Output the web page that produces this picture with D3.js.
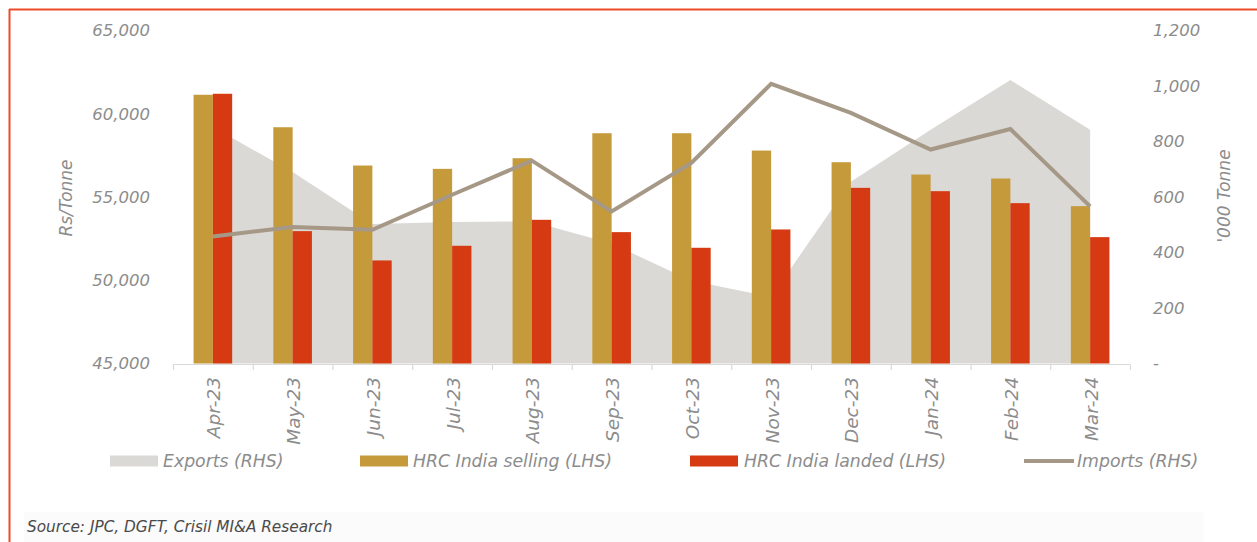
<!DOCTYPE html>
<html>
<head>
<meta charset="utf-8">
<script src="https://cdn.jsdelivr.net/npm/d3@7"></script>
<style>
  html, body { margin: 0; padding: 0; background: #ffffff; }
  svg { display: block; }
  text { font-family: "DejaVu Sans", sans-serif; font-style: italic; }
</style>
</head>
<body>
<svg id="chart" width="1257" height="542"></svg>
<script>
// Monthly HRC prices (Rs/Tonne, left axis) and trade volumes ('000 Tonne, right axis)
const months = ["Apr-23","May-23","Jun-23","Jul-23","Aug-23","Sep-23","Oct-23","Nov-23","Dec-23","Jan-24","Feb-24","Mar-24"];
const sellingPrice = [61140, 59190, 56890, 56690, 57330, 58830, 58830, 57790, 57090, 56350, 56110, 54450];
const landedPrice  = [61200, 52950, 51190, 52070, 53630, 52890, 51950, 53050, 55550, 55350, 54630, 52590];
const imports = [458, 492, 482, 608, 731, 548, 723, 1008, 903, 771, 845, 566];
const exports = [852, 690, 503, 510, 512, 432, 298, 240, 655, 842, 1022, 842];
const leftTicks = [45000, 50000, 55000, 60000, 65000];
const rightTicks = [0, 200, 400, 600, 800, 1000, 1200];

const colors = {
  exports: "#dbd9d5",
  selling: "#c59a3b",
  landed: "#d53a12",
  imports: "#a69886",
  text: "#8c8c8c",
  axis: "#d9d9d9",
  frame: "#ee4b2b"
};

const svg = d3.select("#chart");

// frame: top and left rules
svg.append("line").attr("x1", 9).attr("x2", 1257).attr("y1", 9.5).attr("y2", 9.5)
  .attr("stroke", colors.frame).attr("stroke-width", 2);
svg.append("line").attr("x1", 9.5).attr("x2", 9.5).attr("y1", 9).attr("y2", 542)
  .attr("stroke", colors.frame).attr("stroke-width", 2);

// faint band behind the source note
svg.append("rect").attr("x", 24).attr("y", 512).attr("width", 1179).attr("height", 30)
  .attr("fill", "#fbfbfb");

const x = d3.scaleBand().domain(months).range([173, 1130]).paddingInner(0).paddingOuter(0);
const xSub = d3.scaleBand().domain(["selling", "landed"]).range([0, x.bandwidth()])
  .paddingInner(0).paddingOuter(1.066);
const yL = d3.scaleLinear().domain([45000, 65000]).range([363.5, 30.5]);
const yR = d3.scaleLinear().domain([0, 1200]).range([363.5, 30.5]);
const cx = d => x(d) + x.bandwidth() / 2;

// exports area (right axis)
const area = d3.area()
  .x((d, i) => cx(months[i]))
  .y0(yR(0))
  .y1(d => yR(d));
svg.append("path").datum(exports).attr("d", area).attr("fill", colors.exports);

// price bars (left axis)
const bars = svg.append("g");
months.forEach((m, i) => {
  bars.append("rect")
    .attr("x", x(m) + xSub("selling")).attr("width", xSub.bandwidth())
    .attr("y", yL(sellingPrice[i])).attr("height", yL(45000) - yL(sellingPrice[i]))
    .attr("fill", colors.selling);
  bars.append("rect")
    .attr("x", x(m) + xSub("landed")).attr("width", xSub.bandwidth())
    .attr("y", yL(landedPrice[i])).attr("height", yL(45000) - yL(landedPrice[i]))
    .attr("fill", colors.landed);
});

// imports line (right axis)
const line = d3.line().x((d, i) => cx(months[i])).y(d => yR(d));
svg.append("path").datum(imports).attr("d", line)
  .attr("fill", "none").attr("stroke", colors.imports).attr("stroke-width", 4)
  .attr("stroke-linejoin", "miter");

// x axis: baseline with ticks at category boundaries
const xAxisG = svg.append("g");
xAxisG.append("line").attr("x1", 173).attr("x2", 1130).attr("y1", 364.5).attr("y2", 364.5)
  .attr("stroke", colors.axis).attr("stroke-width", 1.2);
const boundaries = months.map(m => x(m)).concat([x.range()[1]]);
xAxisG.selectAll("line.tick").data(boundaries).join("line").attr("class", "tick")
  .attr("x1", d => d + 0.5).attr("x2", d => d + 0.5).attr("y1", 364.5).attr("y2", 370)
  .attr("stroke", colors.axis).attr("stroke-width", 1.2);
xAxisG.selectAll("text").data(months).join("text")
  .attr("transform", d => `translate(${cx(d) + 1},377) rotate(-90)`)
  .attr("text-anchor", "end").attr("dy", "0.35em")
  .attr("font-size", 18.5).attr("fill", colors.text)
  .text(d => d);

// left axis labels
const fmt = d3.format(",");
svg.append("g").selectAll("text").data(leftTicks).join("text")
  .attr("x", 150).attr("y", d => yL(d)).attr("dy", "0.36em")
  .attr("text-anchor", "end").attr("font-size", 16.5).attr("fill", colors.text)
  .text(d => fmt(d));

// right axis labels
svg.append("g").selectAll("text").data(rightTicks).join("text")
  .attr("x", 1153).attr("y", d => yR(d)).attr("dy", "0.36em")
  .attr("text-anchor", "start").attr("font-size", 16.5).attr("fill", colors.text)
  .text(d => d === 0 ? "-" : fmt(d));

// axis titles
svg.append("text").attr("transform", "translate(66,198) rotate(-90)")
  .attr("text-anchor", "middle").attr("dy", "0.35em")
  .attr("font-size", 17).attr("fill", colors.text).text("Rs/Tonne");
svg.append("text").attr("transform", "translate(1224,196) rotate(-90)")
  .attr("text-anchor", "middle").attr("dy", "0.35em")
  .attr("font-size", 17).attr("fill", colors.text).text("'000 Tonne");

// legend
const legend = svg.append("g");
const legendItems = [
  { label: "Exports (RHS)", type: "rect", color: colors.exports, x: 110, tx: 163 },
  { label: "HRC India selling (LHS)", type: "rect", color: colors.selling, x: 360, tx: 413 },
  { label: "HRC India landed (LHS)", type: "rect", color: colors.landed, x: 690, tx: 744 },
  { label: "Imports (RHS)", type: "line", color: colors.imports, x: 1024, tx: 1077 }
];
legendItems.forEach(it => {
  if (it.type === "rect") {
    legend.append("rect").attr("x", it.x).attr("y", 455.5).attr("width", 48).attr("height", 11)
      .attr("fill", it.color);
  } else {
    legend.append("line").attr("x1", it.x).attr("x2", it.x + 50).attr("y1", 461).attr("y2", 461)
      .attr("stroke", it.color).attr("stroke-width", 4);
  }
  legend.append("text").attr("x", it.tx).attr("y", 461).attr("dy", "0.35em")
    .attr("font-size", 17.3).attr("fill", colors.text).text(it.label);
});

// source note
svg.append("text").attr("x", 27).attr("y", 527).attr("dy", "0.35em")
  .attr("font-size", 15.3).attr("fill", "#4a4a4a")
  .text("Source: JPC, DGFT, Crisil MI&A Research");
</script>
</body>
</html>
